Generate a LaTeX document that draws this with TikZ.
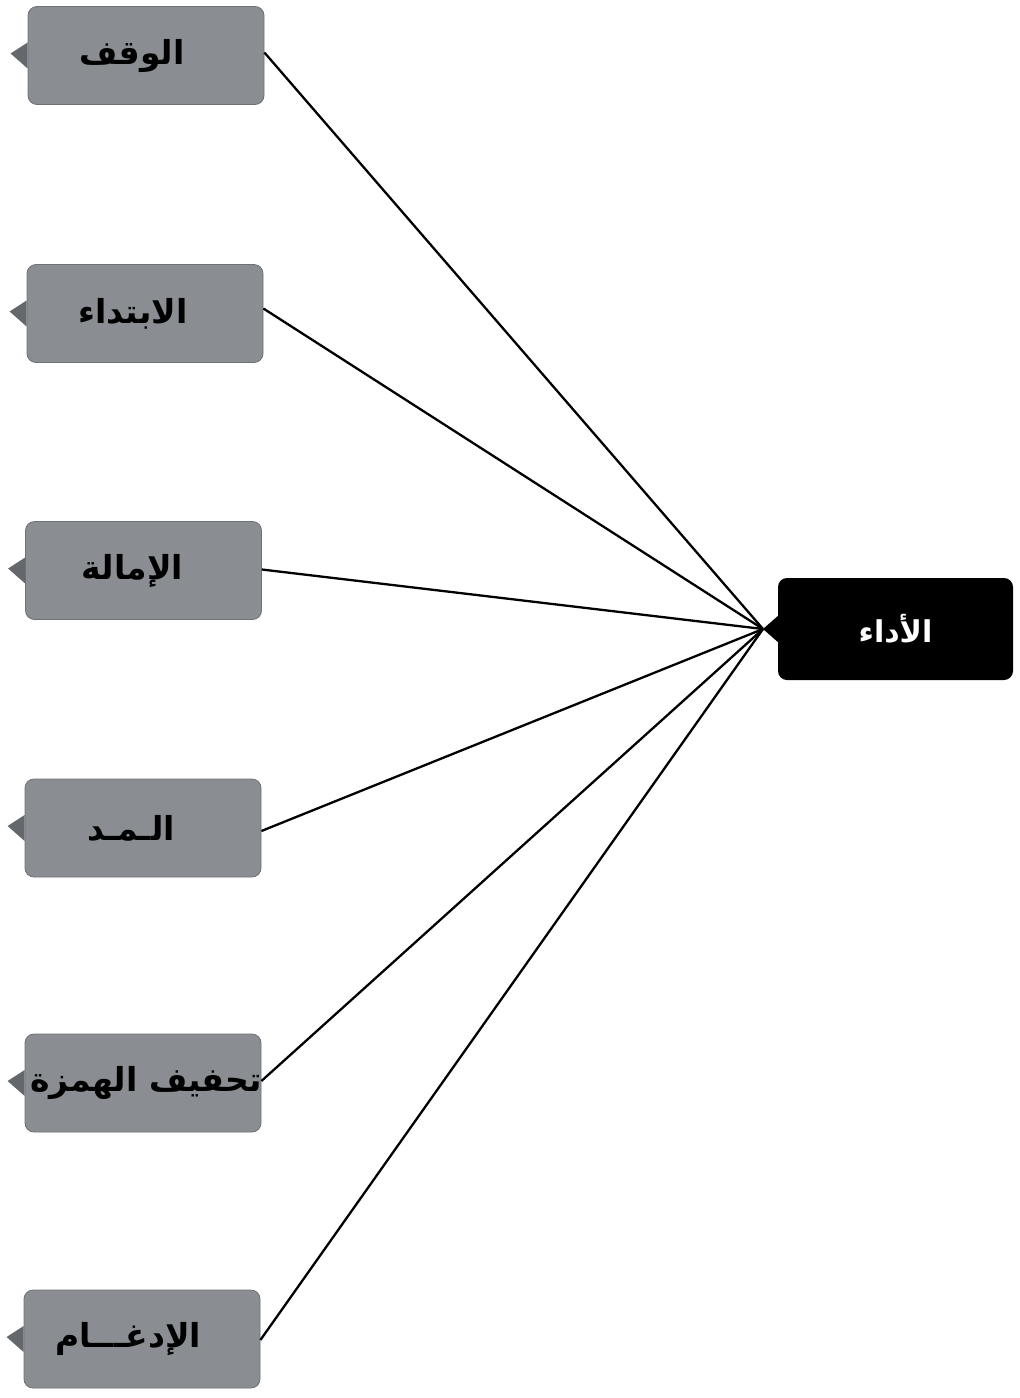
\documentclass[tikz,border=0pt]{standalone}
\usepackage{fontspec}
\TeXXeTstate=1
\newfontfamily\arabicfont[Script=Arabic]{DejaVu Sans}
\begin{document}
\begin{tikzpicture}[x=1pt,y=-1pt,
  tagbox/.style={draw=tagedge, line width=0.8pt, fill=taggray, rounded corners=9pt, minimum width=236pt, minimum height=98pt, inner sep=0pt},
  tagtext/.style={font=\arabicfont\bfseries\fontsize{33}{38}\selectfont, text=black, inner sep=0pt},
  headbox/.style={fill=black, rounded corners=9pt, minimum width=235pt, minimum height=102pt, inner sep=0pt, font=\arabicfont\bfseries\fontsize{30}{36}\selectfont, text=white},
  link/.style={draw=black, line width=2.3pt}]
\definecolor{taggray}{RGB}{138,142,146}
\definecolor{tagedge}{RGB}{110,114,118}
\definecolor{tipgray}{RGB}{100,104,108}
\useasboundingbox (0,0) rectangle (1020,1398);
\fill[white] (0,0) rectangle (1020,1398);
% gray tags
\node[tagbox, label={[tagtext,xshift=-14pt]center:\beginR الوقف\endR}] (a) at (146,55.5) {};
\node[tagbox, label={[tagtext,xshift=-12pt]center:\beginR الابتداء\endR}] (b) at (145,313.5) {};
\node[tagbox, label={[tagtext,xshift=-11pt]center:\beginR الإمالة\endR}] (c) at (143.5,570.5) {};
\node[tagbox, label={[tagtext,xshift=-12pt]center:\beginR الـمـد\endR}] (d) at (143,828) {};
\node[tagbox, label={[tagtext,xshift=3pt]center:\beginR تحفيف الهمزة\endR}] (e) at (143,1083) {};
\node[tagbox, label={[tagtext,xshift=-14pt]center:\beginR الإدغـــام\endR}] (f) at (142,1339) {};
\foreach \n in {a,b,c,d,e,f}{
  \fill[tipgray] ([yshift=-13pt]\n.west) -- ([xshift=-17pt,yshift=2pt]\n.west) -- ([yshift=13pt]\n.west) -- cycle;
}
% head
\node[headbox] (h) at (895.5,629) {\beginR الأداء\endR};
\coordinate (tip) at (763,629);
\fill[black] ([yshift=-13pt]h.west) -- (tip) -- ([yshift=13pt]h.west) -- cycle;
% links
\draw[link] ([yshift=3pt]a.east) -- (tip);
\draw[link] ([yshift=5pt]b.east) -- (tip);
\draw[link] ([yshift=1pt]c.east) -- (tip);
\draw[link] ([yshift=-3pt]d.east) -- (tip);
\draw[link] ([yshift=2pt]e.east) -- (tip);
\draw[link] ([yshift=-1pt]f.east) -- (tip);
\end{tikzpicture}
\end{document}
